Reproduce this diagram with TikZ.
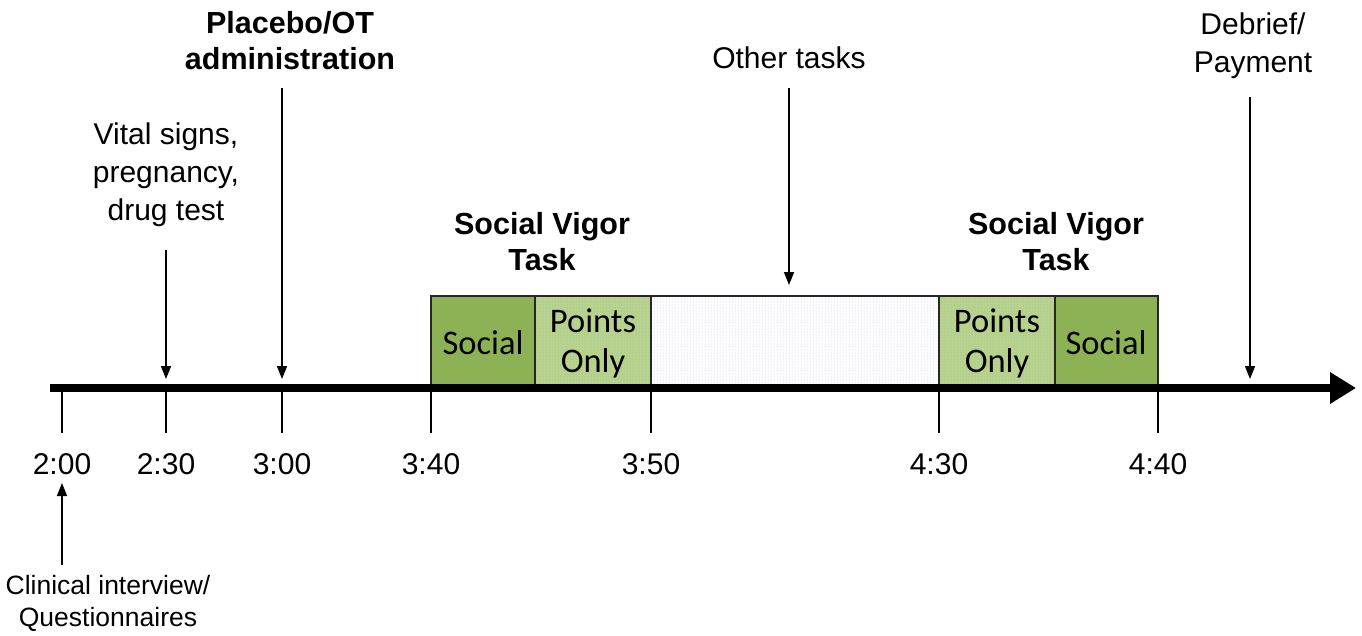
\documentclass[tikz,border=0pt]{standalone}
\usepackage{fontspec}
\setmainfont{Liberation Sans}
\newfontfamily\arialfont{Liberation Sans}
\newfontfamily\boxfont{Carlito}
\usetikzlibrary{arrows.meta,patterns}
\definecolor{darkg}{HTML}{8DB255}
\definecolor{lightg}{HTML}{B8D390}
\definecolor{dotblue}{HTML}{B8BEE4}
\definecolor{dotgreen}{HTML}{9CBC70}
\begin{document}
\begin{tikzpicture}[x=1pt,y=-1pt,
  lbl/.style={font=\arialfont\fontsize{30}{38}\selectfont, align=center, inner sep=0pt},
  blbl/.style={font=\arialfont\fontsize{30.5}{36}\selectfont\bfseries, align=center, inner sep=0pt},
  tlbl/.style={font=\arialfont\fontsize{30}{36}\selectfont, inner sep=0pt},
  slbl/.style={font=\arialfont\fontsize{26.5}{32}\selectfont, align=center, inner sep=0pt},
  boxtxt/.style={font=\boxfont\fontsize{34.5}{40}\selectfont, align=center, inner sep=0pt},
  ptr/.style={line width=1.5pt, -{Triangle[length=13pt,width=10pt]}},
  tick/.style={line width=1.5pt},
  blk/.style={draw=black!85, line width=1.5pt}
]
\useasboundingbox (0,0) rectangle (1362,635);
% boxes
\fill[darkg] (431,296) rectangle (535,388);
\fill[lightg] (535,296) rectangle (651,388);
\fill[pattern=dots, pattern color=dotgreen] (535,296) rectangle (651,388);
\fill[white] (651,296) rectangle (939,388);
\fill[pattern=dots, pattern color=dotblue] (651,296) rectangle (939,388);
\fill[lightg] (939,296) rectangle (1055,388);
\fill[pattern=dots, pattern color=dotgreen] (939,296) rectangle (1055,388);
\fill[darkg] (1055,296) rectangle (1158,388);
\draw[blk] (431,296) rectangle (1158,388);
\foreach \x in {535,651,939,1055} \draw[blk] (\x,296) -- (\x,388);
\node[boxtxt] (s1) at (483,343) {Social};
\node[boxtxt] (p1) at (593,343) {Points\\Only};
\node[boxtxt] (p2) at (997,343) {Points\\Only};
\node[boxtxt] (s2) at (1106,343) {Social};
% axis
\coordinate (axs) at (50,388);
\coordinate (axe) at (1356,388);
\draw[line width=8pt, -{Triangle[length=26pt,width=30pt]}] (axs) -- (axe);
% ticks and labels
\foreach \x/\t/\n in {62/2:00/a,166/2:30/b,282/3:00/c,431/3:40/d,651/3:50/e,939/4:30/f,1158/4:40/g}{
  \coordinate (tk\n) at (\x,392);
  \coordinate (tb\n) at (\x,433);
  \draw[tick] (tk\n) -- (tb\n);
  \node[tlbl] (t\n) at (\x,464) {\t};
}
% labels with arrows
\node[blbl] (plac) at (290,41) {Placebo/OT\\administration};
\coordinate (placA) at (282,88);
\coordinate (placB) at (282,379);
\draw[ptr] (placA) -- (placB);
\node[lbl] (vital) at (166,175) {Vital signs,\\pregnancy,\\drug test};
\coordinate (vitA) at (166,250);
\coordinate (vitB) at (166,379);
\draw[ptr] (vitA) -- (vitB);
\node[blbl] (svt1) at (542,242) {Social Vigor\\Task};
\node[blbl] (svt2) at (1056,242) {Social Vigor\\Task};
\node[lbl] (other) at (789,58) {Other tasks};
\coordinate (othA) at (789,88);
\coordinate (othB) at (789,285);
\draw[ptr] (othA) -- (othB);
\node[lbl] (debr) at (1253,46) {Debrief/\\Payment};
\coordinate (debA) at (1250,97);
\coordinate (debB) at (1250,379);
\draw[ptr] (debA) -- (debB);
\node[slbl] (clin) at (108,603) {Clinical interview/\\Questionnaires};
\coordinate (clA) at (62,565);
\coordinate (clB) at (62,483);
\draw[ptr] (clA) -- (clB);
\end{tikzpicture}
\end{document}
